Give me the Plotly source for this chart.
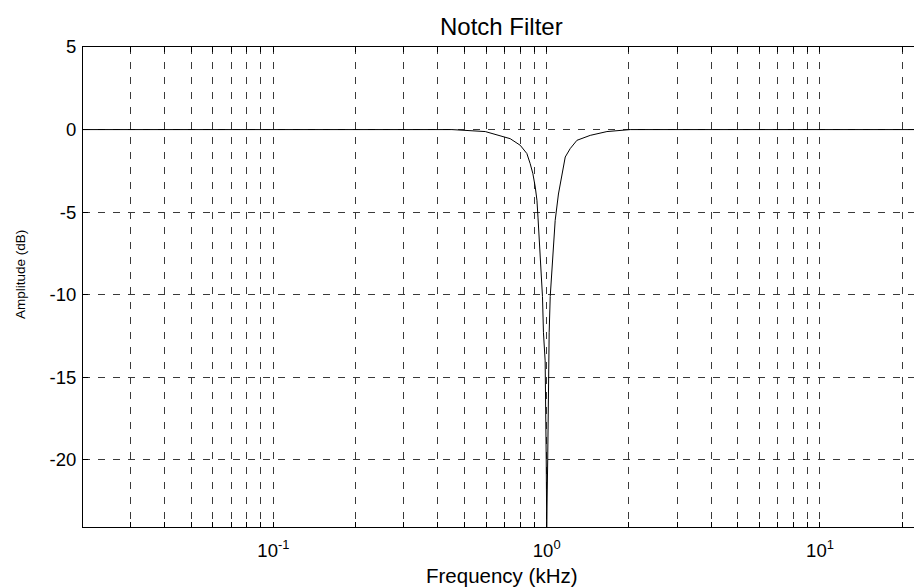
import math
import plotly.graph_objects as go

# Magnitude response of the notch filter (frequency in kHz, amplitude in dB)
freq_khz = [0.02, 0.10, 0.30, 0.45, 0.596, 0.657, 0.735, 0.800, 0.846, 0.870,
            0.890, 0.908, 0.921, 0.929, 0.939, 0.960, 0.965, 0.973, 0.987,
            0.996, 1.000, 1.0085, 1.015, 1.021, 1.030, 1.045, 1.059, 1.074,
            1.104, 1.137, 1.169, 1.219, 1.290, 1.443, 1.661, 2.02, 5.0, 30.0]
amp_db = [0.0, 0.0, 0.0, 0.0, -0.12, -0.30, -0.55, -0.95, -1.45, -2.06,
          -2.67, -3.48, -4.28, -5.3, -6.7, -9.1, -10.1, -12.3, -14.0,
          -20.0, -24.06, -20.0, -14.0, -12.3, -10.1, -8.3, -6.9, -5.5,
          -3.9, -2.67, -1.66, -1.15, -0.65, -0.35, -0.12, 0.0, 0.0, 0.0]

# Axis ticks
y_ticks = [-20, -15, -10, -5, 0, 5]
y_tick_labels = ["-20", "-15", "-10", "-5", "0", "5"]
x_decades = [0.01, 0.1, 1.0, 10.0]
x_min, x_max = 0.0201, 22.08
y_min, y_max = -24.06, 5.0

x_ticks, x_tick_labels = [], []
for d in x_decades:
    for m in range(1, 10):
        v = m * d
        if x_min <= v <= x_max:
            x_ticks.append(v)
            x_tick_labels.append(f"10<sup>{int(round(math.log10(d)))}</sup>" if m == 1 else "")

W, H = 914, 587
L, T, B = 83, 47, 60
PW, PH = W - L, H - T - B
font_family = "Liberation Sans, Arial, sans-serif"
label_cx = 501  # horizontal centre of the axes box

fig = go.Figure()
fig.add_trace(go.Scatter(
    x=freq_khz, y=amp_db, mode="lines",
    line=dict(color="black", width=1),
    showlegend=False, hoverinfo="skip",
))

grid = dict(gridcolor="#3a3a3a", gridwidth=1, griddash="7px,8px")

fig.update_layout(
    width=W, height=H,
    margin=dict(l=L, r=0, t=T, b=B),
    paper_bgcolor="white", plot_bgcolor="white",
    font=dict(family=font_family, size=18.5, color="black"),
    xaxis=dict(type="log", range=[math.log10(x_min), math.log10(x_max)],
               tickmode="array", tickvals=x_ticks, ticktext=x_tick_labels,
               ticks="inside", ticklen=5, tickcolor="black", ticklabelstandoff=7,
               tickfont=dict(size=18.5),
               showline=True, linecolor="black", linewidth=1, mirror="ticks",
               showgrid=True, zeroline=False, **grid),
    yaxis=dict(range=[y_min, y_max],
               tickmode="array", tickvals=y_ticks, ticktext=y_tick_labels,
               ticks="inside", ticklen=5, tickcolor="black", ticklabelstandoff=2,
               tickfont=dict(size=18.5),
               showline=True, linecolor="black", linewidth=1, mirror=False,
               showgrid=True, zeroline=False, **grid),
)

# Title and axis labels
fig.add_annotation(text="Notch Filter", xref="paper", x=(label_cx - L) / PW,
                   yref="paper", y=(H - B - 27) / PH, xanchor="center", yanchor="middle",
                   showarrow=False, font=dict(size=24))
fig.add_annotation(text="Frequency (kHz)", xref="paper", x=(label_cx + 1 - L) / PW,
                   yref="paper", y=-(575 - (H - B)) / PH, xanchor="center", yanchor="middle",
                   showarrow=False, font=dict(size=20.5))
fig.add_annotation(text="Amplitude (dB)", xref="paper", x=-(L - 20) / PW,
                   yref="paper", y=((H - B) - 275) / PH, xanchor="center", yanchor="middle",
                   textangle=-90, showarrow=False, font=dict(size=13.5))

fig.write_html("out.html")
